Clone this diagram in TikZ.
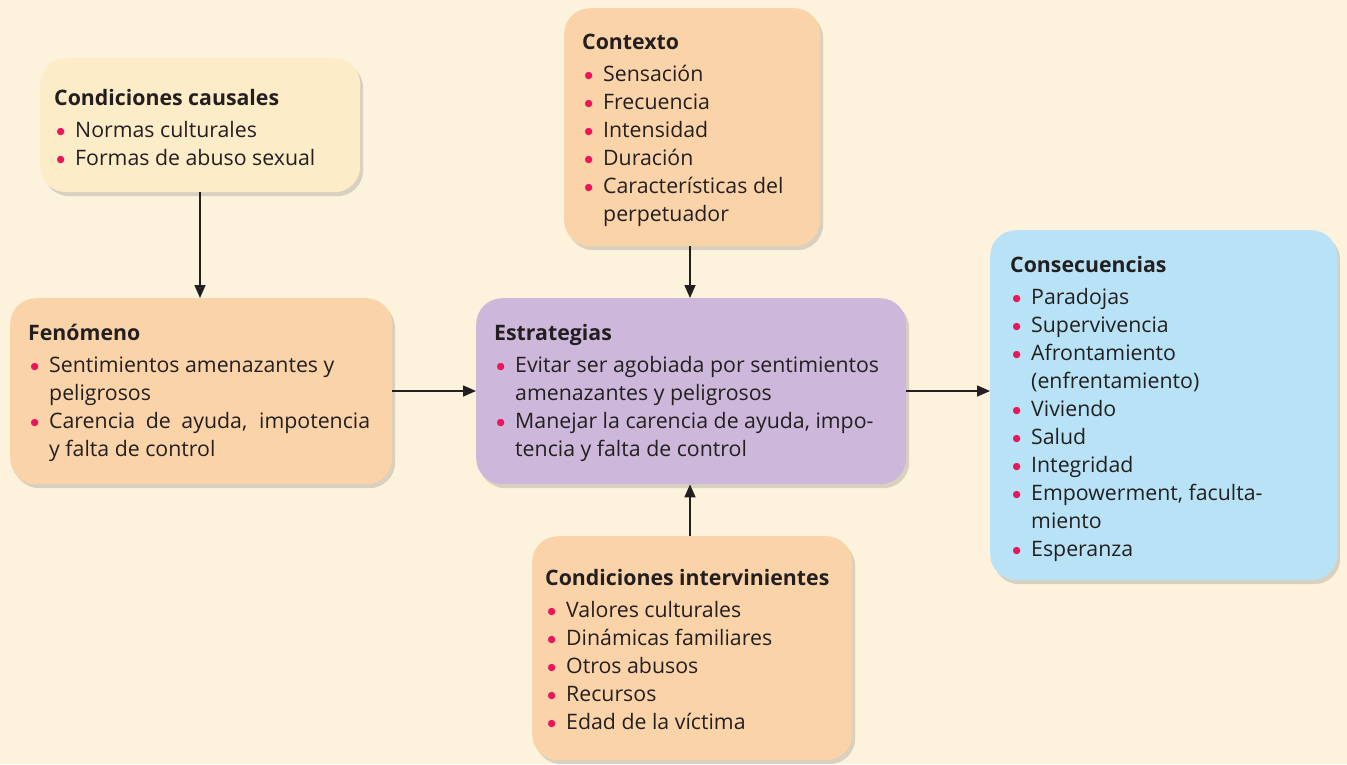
\documentclass[tikz,border=0pt]{standalone}
\usepackage{fontspec}
\setmainfont{Open Sans}
\newfontfamily\dejavu{DejaVu Sans}
\usetikzlibrary{arrows.meta,shadows}
\definecolor{bgc}{RGB}{253,242,220}
\definecolor{yelc}{RGB}{253,236,200}
\definecolor{peachc}{RGB}{251,211,168}
\definecolor{lavc}{RGB}{205,183,218}
\definecolor{bluec}{RGB}{184,227,247}
\definecolor{bulc}{RGB}{232,23,93}
\definecolor{txtc}{RGB}{35,31,32}
\newcommand{\nl}{\hfil\break}
\newcommand{\bitem}[1]{\par\hangindent=21pt\hangafter=1\noindent\makebox[21pt][l]{\hspace{2.5pt}\textcolor{bulc}{\dejavu\fontsize{9.5}{9.5}\selectfont\raisebox{2.2pt}{●}}}#1}
\newcommand{\btitle}[1]{\noindent\textbf{#1}\par\vspace{4pt}}
\newcommand{\btext}[2]{\parbox[t]{#1}{\fontsize{21.3}{28}\selectfont\raggedright#2}}
\tikzset{
  box/.style={draw=none, rounded corners=26pt, anchor=north west, inner sep=0pt,
    drop shadow={shadow xshift=3pt, shadow yshift=-4pt, opacity=0.2, fill=black!70}},
  boxtext/.style={anchor=base west, inner sep=0pt, text=txtc},
  arr/.style={line width=1.6pt, draw=txtc, -{Triangle[length=13pt,width=11pt]}}
}
\begin{document}
\begin{tikzpicture}[x=1pt,y=-1pt]
\useasboundingbox[fill=bgc] (0,0) rectangle (1347,764);
% boxes
\node[box, fill=yelc, minimum width=320pt, minimum height=134pt] (caus) at (40,58) {};
\node[box, fill=peachc, minimum width=382pt, minimum height=186pt] (fen) at (10,298) {};
\node[box, fill=peachc, minimum width=256pt, minimum height=238pt] (ctx) at (564,8) {};
\node[box, fill=lavc, minimum width=430pt, minimum height=186pt] (est) at (476,298) {};
\node[box, fill=peachc, minimum width=320pt, minimum height=224pt] (int) at (532,536) {};
\node[box, fill=bluec, minimum width=347pt, minimum height=350pt] (cons) at (990,230) {};
% texts
\node[boxtext] (caust) at (54,105) {\btext{300pt}{\btitle{Condiciones causales}%
\bitem{Normas culturales}\bitem{Formas de abuso sexual}}};
\node[boxtext] (fent) at (28,340) {\btext{360pt}{\btitle{Fenómeno}%
\bitem{Sentimientos amenazantes y\nl peligrosos}\bitem{\makebox[321pt][s]{Carencia de ayuda, impotencia}\nl y falta de control}}};
\node[boxtext] (ctxt) at (582,49) {\btext{240pt}{\btitle{Contexto}%
\bitem{Sensación}\bitem{Frecuencia}\bitem{Intensidad}\bitem{Duración}\bitem{Características del\nl perpetuador}}};
\node[boxtext] (estt) at (494,340) {\btext{420pt}{\btitle{Estrategias}%
\bitem{Evitar ser agobiada por sentimientos\nl amenazantes y peligrosos}\bitem{Manejar la carencia de ayuda, impo-\nl tencia y falta de control}}};
\node[boxtext] (intt) at (545,585) {\btext{300pt}{\btitle{Condiciones intervinientes}%
\bitem{Valores culturales}\bitem{Dinámicas familiares}\bitem{Otros abusos}\bitem{Recursos}\bitem{Edad de la víctima}}};
\node[boxtext] (const) at (1010,272) {\btext{320pt}{\btitle{Consecuencias}%
\bitem{Paradojas}\bitem{Supervivencia}\bitem{Afrontamiento\nl (enfrentamiento)}\bitem{Viviendo}\bitem{Salud}\bitem{Integridad}\bitem{Empowerment, faculta-\nl miento}\bitem{Esperanza}}};
% arrows
\draw[arr] (caus.south -| 200,0) -- (fen.north -| 200,0);
\draw[arr] (ctx.south -| 690,0) -- (est.north -| 690,0);
\draw[arr] (int.north -| 690,0) -- (est.south -| 690,0);
\draw[arr] (fen.east |- 0,391) -- (est.west |- 0,391);
\draw[arr] (est.east |- 0,391) -- (cons.west |- 0,391);
\end{tikzpicture}
\end{document}
